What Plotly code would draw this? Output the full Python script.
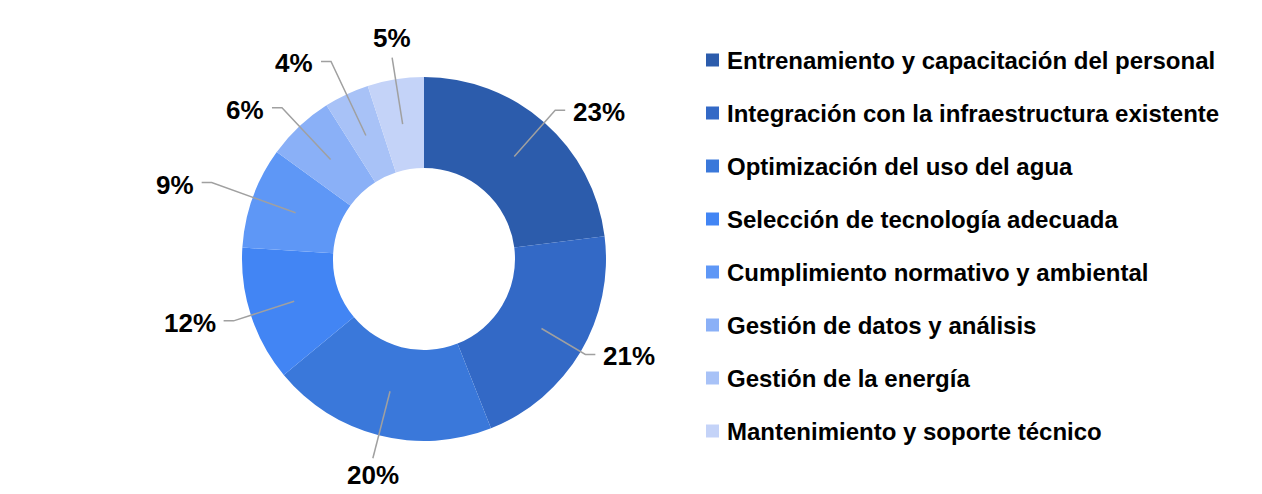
import math
import plotly.graph_objects as go

# ---- data ----
categories = [
    "Entrenamiento y capacitación del personal",
    "Integración con la infraestructura existente",
    "Optimización del uso del agua",
    "Selección de tecnología adecuada",
    "Cumplimiento normativo y ambiental",
    "Gestión de datos y análisis",
    "Gestión de la energía",
    "Mantenimiento y soporte técnico",
]
values = [23, 21, 20, 12, 9, 6, 4, 5]
colors = ["#2C5CAC", "#3369C6", "#3A78DA", "#4285F4",
          "#5E97F6", "#8AB0F7", "#A8C2F7", "#C4D3F8"]

# ---- layout constants (pixels in the screenshot) ----
W, H = 1262, 494
OFF = 8  # page body margin
CX, CY, R = 424, 259, 182
HOLE = 0.5
FONT = "Liberation Sans, Arial, sans-serif"
# leader-line elbow distance (as a multiple of the outer radius), per slice
label_radius = [1.09, 1.03, 1.13, 1.10, 1.24, 1.14, 1.20, 1.12]


def px(x):
    return (x - OFF) / W


def py(y):
    return 1 - (y - OFF) / H


fig = go.Figure()
fig.add_trace(go.Pie(
    labels=categories,
    values=values,
    hole=HOLE,
    sort=False,
    direction="clockwise",
    rotation=0,
    marker=dict(colors=colors, line=dict(width=0)),
    textinfo="none",
    hoverinfo="label+percent",
    showlegend=False,
    domain=dict(x=[px(CX - R), px(CX + R)], y=[py(CY + R), py(CY - R)]),
))

shapes = []
annotations = []
total = sum(values)
cum = 0
r_start = R * (1 + HOLE) / 2
stub = 10
for v, lr in zip(values, label_radius):
    mid = (cum + v / 2) / total * 2 * math.pi
    cum += v
    r_elbow = R * lr
    sx, sy = CX + r_start * math.sin(mid), CY - r_start * math.cos(mid)
    ex, ey = CX + r_elbow * math.sin(mid), CY - r_elbow * math.cos(mid)
    pct = f"{round(v / total * 100)}%"
    deg = math.degrees(mid)
    near_top = deg > 340 or deg < 20
    near_bottom = 160 < deg < 200
    if near_top or near_bottom:
        path = f"M {px(sx)},{py(sy)} L {px(ex)},{py(ey)}"
        annotations.append(dict(
            x=px(ex), y=py(ey + (0 if near_bottom else -3)), xref="paper", yref="paper",
            text=pct, showarrow=False, xanchor="center",
            yanchor="top" if near_bottom else "bottom",
            font=dict(family=FONT, size=26, color="#000000", weight=700)))
    else:
        right = deg < 180
        hx = ex + (stub if right else -stub)
        path = f"M {px(sx)},{py(sy)} L {px(ex)},{py(ey)} L {px(hx)},{py(ey)}"
        annotations.append(dict(
            x=px(hx + (6 if right else -6)), y=py(ey + 2), xref="paper", yref="paper",
            text=pct, showarrow=False, xanchor="left" if right else "right",
            yanchor="middle",
            font=dict(family=FONT, size=26, color="#000000", weight=700)))
    shapes.append(dict(type="path", path=path, xref="paper", yref="paper",
                       line=dict(color="#A0A0A0", width=1.5)))

# ---- legend (drawn as squares + text) ----
LX, LY0, LSTEP, SQ = 706, 60, 53, 13
for i, (cat, col) in enumerate(zip(categories, colors)):
    yc = LY0 + i * LSTEP
    shapes.append(dict(type="rect", xref="paper", yref="paper",
                       x0=px(LX), x1=px(LX + SQ), y0=py(yc + SQ / 2), y1=py(yc - SQ / 2),
                       fillcolor=col, line=dict(width=0)))
    annotations.append(dict(
        x=px(LX + SQ + 6), y=py(yc), xref="paper", yref="paper",
        text=cat, showarrow=False, xanchor="left", yanchor="middle",
        font=dict(family=FONT, size=24, color="#000000", weight=700)))

fig.update_layout(
    width=W, height=H,
    margin=dict(l=0, r=0, t=0, b=0),
    paper_bgcolor="white",
    plot_bgcolor="white",
    shapes=shapes,
    annotations=annotations,
    showlegend=False,
)

fig.write_html("out.html")
